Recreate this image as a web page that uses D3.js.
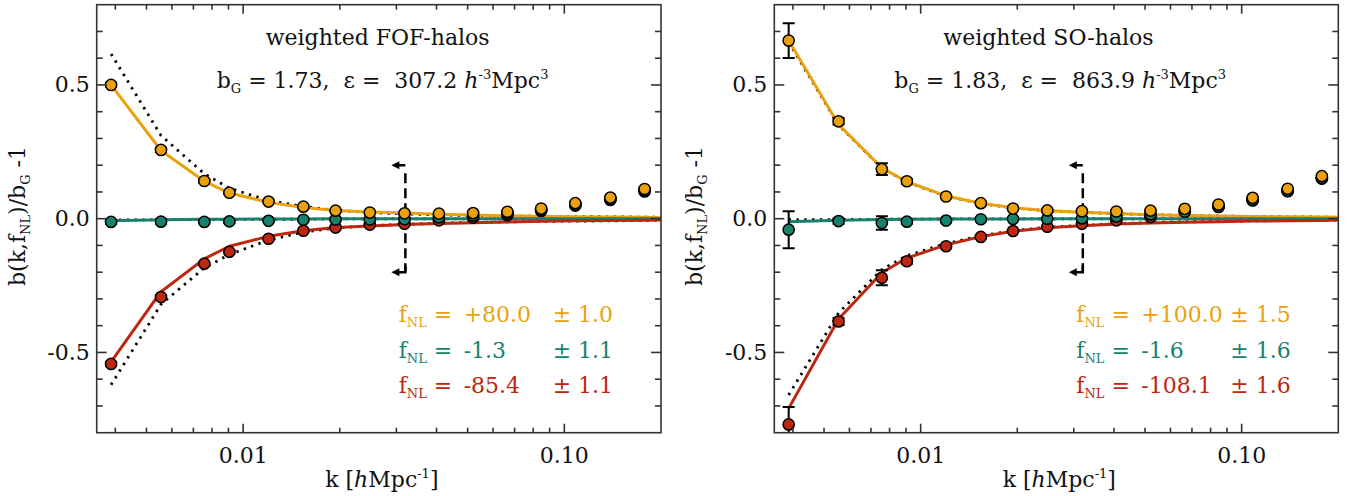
<!DOCTYPE html>
<html><head><meta charset="utf-8">
<script src="https://cdn.jsdelivr.net/npm/d3@7"></script>
<style>
body{margin:0;background:#fff}
svg{display:block}
text{font-family:'DejaVu Serif',serif;font-size:22px;fill:#111}
</style>
</head><body>
<svg id="c" width="1356" height="496"></svg>
<script>
// ---------------- data ----------------
const kBins = [0.00388, 0.00555, 0.00757, 0.00906, 0.0120, 0.0154, 0.0194, 0.0248, 0.0318, 0.0407, 0.0520, 0.0665, 0.0847, 0.1082, 0.1391, 0.1778];
const kModel = [0.00388, 0.00555, 0.00757, 0.00906, 0.0120, 0.0154, 0.0194, 0.0248, 0.0318, 0.0407, 0.0520, 0.0665, 0.0847, 0.1082, 0.1391, 0.1778, 0.2];
const kMax = 0.032;

// FOF panel
const fofPos  = [0.500, 0.257, 0.141, 0.097, 0.064, 0.045, 0.030, 0.023, 0.020, 0.019, 0.021, 0.026, 0.038, 0.058, 0.079, 0.111];
const fofZero = [-0.012, -0.011, -0.012, -0.010, -0.008, -0.004, -0.003, -0.003, -0.002, 0.005, 0.012, 0.020, 0.033, 0.053, 0.074, 0.106];
const fofNeg  = [-0.543, -0.293, -0.168, -0.124, -0.075, -0.045, -0.033, -0.022, -0.019, -0.006, 0.004, 0.013, 0.029, 0.049, 0.070, 0.102];
const fofErr  = [0.008, 0.008, 0.006, 0.005, 0.004, 0.004, 0.003, 0.003, 0.003, 0.003, 0.003, 0.003, 0.003, 0.003, 0.003, 0.003];
const fofPosModel  = [0.500, 0.255, 0.140, 0.096, 0.061, 0.042, 0.031, 0.025, 0.021, 0.017, 0.014, 0.011, 0.009, 0.007, 0.006, 0.005, 0.004];
const fofZeroModel = [-0.008, -0.004, -0.002, -0.002, -0.001, -0.001, 0, 0, 0, 0, 0, 0, 0, 0, 0, 0, 0];
const fofNegModel  = [-0.535, -0.273, -0.150, -0.103, -0.066, -0.045, -0.033, -0.027, -0.022, -0.018, -0.015, -0.012, -0.010, -0.008, -0.0065, -0.0055, -0.0045];
const fofPosAlt  = [0.616, 0.311, 0.168, 0.114, 0.068, 0.046, 0.031, 0.023, 0.018, 0.014, 0.012, 0.010, 0.009, 0.008, 0.007, 0.006, 0.006];
const fofZeroAlt = [-0.005, -0.004, -0.003, -0.003, -0.002, -0.002, -0.001, -0.001, -0.001, -0.001, -0.001, -0.001, -0.001, -0.001, -0.001, -0.001, -0.001];
const fofNegAlt  = [-0.621, -0.320, -0.184, -0.134, -0.080, -0.050, -0.035, -0.026, -0.021, -0.017, -0.014, -0.012, -0.010, -0.009, -0.008, -0.007, -0.006];

// SO panel
const soPos  = [0.666, 0.364, 0.185, 0.140, 0.083, 0.058, 0.038, 0.031, 0.028, 0.027, 0.030, 0.037, 0.053, 0.078, 0.112, 0.159];
const soZero = [-0.041, -0.009, -0.016, -0.011, -0.007, -0.002, -0.001, 0.000, 0.001, 0.008, 0.016, 0.026, 0.045, 0.070, 0.104, 0.151];
const soNeg  = [-0.769, -0.384, -0.221, -0.159, -0.103, -0.068, -0.046, -0.030, -0.019, -0.006, 0.006, 0.027, 0.044, 0.068, 0.103, 0.150];
const soPosErr  = [0.065, 0.012, 0.022, 0.008, 0.006, 0.005, 0.004, 0.003, 0.003, 0.003, 0.003, 0.003, 0.003, 0.003, 0.003, 0.003];
const soZeroErr = [0.069, 0.010, 0.025, 0.008, 0.006, 0.005, 0.004, 0.003, 0.003, 0.003, 0.003, 0.003, 0.003, 0.003, 0.003, 0.003];
const soNegErr  = [0.065, 0.013, 0.028, 0.009, 0.006, 0.005, 0.004, 0.003, 0.003, 0.003, 0.003, 0.003, 0.003, 0.003, 0.003, 0.003];
const soPosModel  = [0.666, 0.352, 0.190, 0.138, 0.085, 0.058, 0.041, 0.030, 0.024, 0.019, 0.015, 0.012, 0.010, 0.008, 0.007, 0.006, 0.005];
const soZeroModel = [-0.011, -0.006, -0.003, -0.002, -0.001, -0.001, -0.001, 0, 0, 0, 0, 0, 0, 0, 0, 0, 0];
const soNegModel  = [-0.709, -0.375, -0.202, -0.147, -0.098, -0.067, -0.047, -0.034, -0.026, -0.020, -0.016, -0.013, -0.011, -0.009, -0.0075, -0.0064, -0.0053];
const soPosAlt  = [0.660, 0.350, 0.189, 0.137, 0.084, 0.057, 0.040, 0.030, 0.024, 0.019, 0.015, 0.012, 0.010, 0.008, 0.007, 0.006, 0.005];
const soZeroAlt = [-0.004, -0.003, -0.002, -0.002, -0.001, -0.001, -0.001, -0.001, -0.001, -0.001, -0.001, -0.001, -0.001, -0.001, -0.001, -0.001, -0.001];
const soNegAlt  = [-0.659, -0.352, -0.190, -0.138, -0.093, -0.064, -0.045, -0.032, -0.025, -0.019, -0.015, -0.012, -0.010, -0.008, -0.007, -0.006, -0.005];

// labels
const panelTitles = ["weighted FOF-halos", "weighted SO-halos"];
const panelBG = ["1.73", "1.83"];
const panelEps = ["307.2", "863.9"];
const fofLegendValues = ["+80.0", "-1.3", "-85.4"];
const fofLegendErrors = ["± 1.0", "± 1.1", "± 1.1"];
const soLegendValues = ["+100.0", "-1.6", "-108.1"];
const soLegendErrors = ["± 1.5", "± 1.6", "± 1.6"];
const yMajorTicks = [-0.5, 0.0, 0.5];
const yTickLabels = ["-0.5", "0.0", "0.5"];
const xMajorTicks = [0.01, 0.1];
const xTickLabels = ["0.01", "0.10"];

// ---------------- styling ----------------
const colOrange = "#EBA10C", colTeal = "#16826E", colRed = "#BD260F";
const seriesColors = [colOrange, colTeal, colRed];

const panels = [
  {x0: 96.7, x1: 661, pos: fofPos, zero: fofZero, neg: fofNeg, errs: [fofErr, fofErr, fofErr],
   models: [fofPosModel, fofZeroModel, fofNegModel], alts: [fofPosAlt, fofZeroAlt, fofNegAlt],
   legVals: fofLegendValues, legErrs: fofLegendErrors},
  {x0: 774.3, x1: 1338.3, pos: soPos, zero: soZero, neg: soNeg, errs: [soPosErr, soZeroErr, soNegErr],
   models: [soPosModel, soZeroModel, soNegModel], alts: [soPosAlt, soZeroAlt, soNegAlt],
   legVals: soLegendValues, legErrs: soLegendErrors}
];
const yTop = 4.7, yBot = 432.7;

const svg = d3.select("#c");
const defs = svg.append("defs");

panels.forEach((p, pi) => {
  const x = d3.scaleLog().domain([0.0035, 0.2]).range([p.x0, p.x1]);
  const y = d3.scaleLinear().domain([-0.8, 0.8]).range([yBot, yTop]);
  const g = svg.append("g");
  const clipId = "clip" + pi;
  defs.append("clipPath").attr("id", clipId).append("rect")
    .attr("x", p.x0).attr("y", yTop).attr("width", p.x1 - p.x0).attr("height", yBot - yTop);
  const plot = g.append("g").attr("clip-path", `url(#${clipId})`);

  const line = d3.line().x((d, i) => x(kModel[i])).y(d => y(d));
  // dotted alternative models (underneath)
  p.alts.forEach(m => {
    plot.append("path").attr("d", line(m)).attr("fill", "none")
      .attr("stroke", "#000").attr("stroke-width", 2.8).attr("stroke-dasharray", "2.4,5.4");
  });
  // model lines
  p.models.forEach((m, si) => {
    plot.append("path").attr("d", line(m)).attr("fill", "none")
      .attr("stroke", seriesColors[si]).attr("stroke-width", 3).attr("stroke-linejoin", "round");
  });

  // kmax marker
  const xm = x(kMax), yA = y(0.2), yB = y(-0.2);
  const mk = plot.append("g").attr("stroke", "#000").attr("stroke-width", 2.5).attr("fill", "none");
  mk.append("path").attr("d", `M${xm},${yA + 8} L${xm},${yB - 1}`).attr("stroke-dasharray", "10,5");
  mk.append("path").attr("d", `M${xm},${yB - 6} L${xm},${yB} L${xm - 8},${yB}`);
  mk.append("path").attr("d", `M${xm},${yA} L${xm - 8},${yA}`);
  [yA, yB].forEach(yy => {
    plot.append("path").attr("d", `M${xm - 14},${yy} L${xm - 6},${yy - 4} L${xm - 6},${yy + 4} Z`).attr("fill", "#000");
  });

  // data points: red, teal, orange (orange on top)
  const series = [p.neg, p.zero, p.pos];
  const sColors = [colRed, colTeal, colOrange];
  const sErrs = [p.errs[2], p.errs[1], p.errs[0]];
  series.forEach((vals, si) => {
    const sg = plot.append("g");
    vals.forEach((v, i) => {
      const cx = x(kBins[i]);
      const e = sErrs[si][i];
      const ya = y(v + e), yb = y(v - e);
      sg.append("line").attr("x1", cx).attr("x2", cx).attr("y1", ya).attr("y2", yb)
        .attr("stroke", "#000").attr("stroke-width", 2);
      [ya, yb].forEach(yy => sg.append("line").attr("x1", cx - 6).attr("x2", cx + 6)
        .attr("y1", yy).attr("y2", yy).attr("stroke", "#000").attr("stroke-width", 2));
      sg.append("circle").attr("cx", cx).attr("cy", y(v)).attr("r", 5.6)
        .attr("fill", sColors[si]).attr("stroke", "#000").attr("stroke-width", 1.5);
    });
  });

  // frame + ticks
  const frame = g.append("g").attr("stroke", "#333").attr("stroke-width", 1.6);
  frame.append("rect").attr("x", p.x0).attr("y", yTop).attr("width", p.x1 - p.x0).attr("height", yBot - yTop).attr("fill", "none");
  x.ticks().forEach(t => {
    const major = xMajorTicks.some(m => Math.abs(m - t) / m < 1e-6);
    const len = major ? 9 : 5;
    const xx = x(t);
    if (xx <= p.x0 + 0.5 || xx >= p.x1 - 0.5) return;
    frame.append("line").attr("x1", xx).attr("x2", xx).attr("y1", yBot).attr("y2", yBot - len);
    frame.append("line").attr("x1", xx).attr("x2", xx).attr("y1", yTop).attr("y2", yTop + len);
  });
  y.ticks(16).forEach(t => {
    const major = yMajorTicks.some(m => Math.abs(m - t) < 1e-6);
    const len = major ? 10 : 6;
    const yy = y(t);
    if (yy <= yTop + 0.5 || yy >= yBot - 0.5) return;
    frame.append("line").attr("x1", p.x0).attr("x2", p.x0 + len).attr("y1", yy).attr("y2", yy);
    frame.append("line").attr("x1", p.x1).attr("x2", p.x1 - len).attr("y1", yy).attr("y2", yy);
  });

  // tick labels
  yMajorTicks.forEach((t, i) => {
    g.append("text").attr("x", p.x0 - 7).attr("y", y(t) + 7.5).attr("text-anchor", "end").text(yTickLabels[i]);
  });
  xMajorTicks.forEach((t, i) => {
    g.append("text").attr("x", x(t)).attr("y", 463).attr("text-anchor", "middle").text(xTickLabels[i]);
  });

  // axis titles
  const xl = g.append("text").attr("x", (p.x0 + p.x1) / 2 + 3).attr("y", 487).attr("text-anchor", "middle");
  xl.append("tspan").text("k [");
  xl.append("tspan").attr("font-style", "italic").text("h");
  xl.append("tspan").text("Mpc");
  xl.append("tspan").attr("font-size", "13px").attr("dy", -9).text("-1");
  xl.append("tspan").attr("dy", 9).text("]");

  const yl = g.append("text").attr("transform", `translate(${p.x0 - 72},${216}) rotate(-90)`).attr("text-anchor", "middle");
  yl.append("tspan").text("b(k,f");
  yl.append("tspan").attr("font-size", "13px").attr("dy", 5).text("NL");
  yl.append("tspan").attr("dy", -5).text(")/b");
  yl.append("tspan").attr("font-size", "13px").attr("dy", 5).text("G");
  yl.append("tspan").attr("dy", -5).text(" -1");

  // panel title
  g.append("text").attr("x", p.x0 + 169).attr("y", 45).text(panelTitles[pi]);
  const t2 = g.append("text").attr("x", p.x0 + 120).attr("y", 88).attr("xml:space", "preserve").style("white-space", "pre");
  t2.append("tspan").text("b");
  t2.append("tspan").attr("font-size", "13px").attr("dy", 5).text("G");
  t2.append("tspan").attr("dy", -5).text(" = " + panelBG[pi] + ",  ε =  " + panelEps[pi] + " ");
  t2.append("tspan").attr("font-style", "italic").text("h");
  t2.append("tspan").attr("font-size", "13px").attr("dy", -9).text("-3");
  t2.append("tspan").attr("dy", 9).text("Mpc");
  t2.append("tspan").attr("font-size", "13px").attr("dy", -9).text("3");

  // legend
  const legCols = [colOrange, colTeal, colRed];
  const legBase = [322, 357.5, 393];
  legCols.forEach((c, i) => {
    const tg = g.append("g").style("fill", c);
    const t = tg.append("text").attr("x", p.x0 + 302).attr("y", legBase[i]).style("fill", c);
    t.append("tspan").text("f");
    t.append("tspan").attr("font-size", "13px").attr("dy", 5).text("NL");
    t.append("tspan").attr("dy", -5).text(" =");
    tg.append("text").attr("x", p.x0 + 367).attr("y", legBase[i]).style("fill", c).text(p.legVals[i]);
    tg.append("text").attr("x", p.x0 + 456).attr("y", legBase[i]).style("fill", c).text(p.legErrs[i]);
  });
});
</script>
</body></html>
